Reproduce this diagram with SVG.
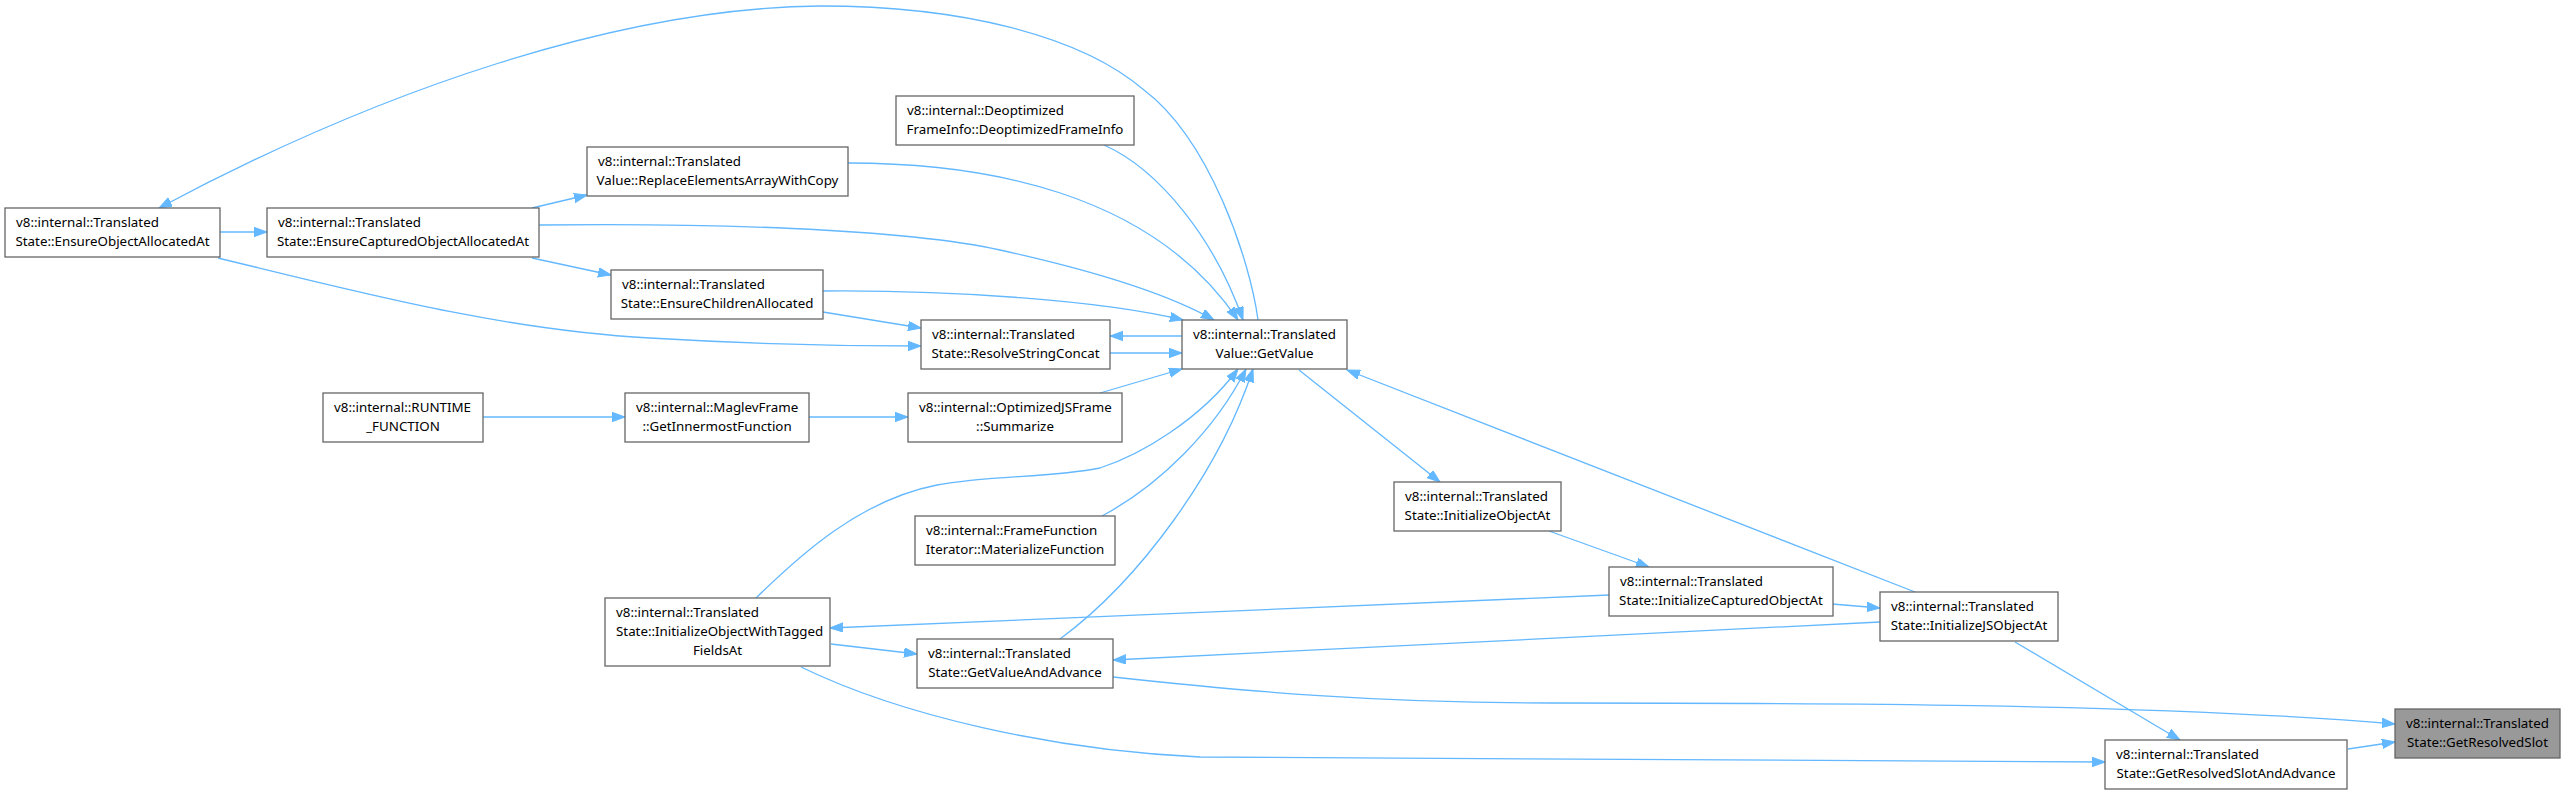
<svg xmlns="http://www.w3.org/2000/svg" width="2565" height="794" viewBox="0 0 2565 794">
<style>
.n rect{fill:#ffffff;stroke:#666666;stroke-width:1.3}
.n.h rect{fill:#999999}
.n text{font-family:"Noto Sans","Liberation Sans",sans-serif;font-size:13.33px;fill:#000}
.m{text-anchor:middle}
#edges path{fill:none;stroke:#63b8ff;stroke-width:1.3;marker-end:url(#ah)}
</style>
<defs>
<marker id="ah" markerWidth="14" markerHeight="10" refX="13" refY="4.7" orient="auto" markerUnits="userSpaceOnUse"><path d="M0,0 L13,4.7 L0,9.4 z" fill="#63b8ff" stroke="#63b8ff" stroke-width="1"/></marker>
</defs>
<rect width="2565" height="794" fill="#ffffff"/>
<g id="edges">
<path d="M220,232 L267,232"/>
<path d="M532,208 L587,195"/>
<path d="M532,258 L611,275"/>
<path d="M539,225 C700,223 900,228 1000,250 C1100,272 1170,295 1214,320"/>
<path d="M1104,145 C1160,170 1215,240 1243,320"/>
<path d="M848,163 C980,163 1150,190 1238,320"/>
<path d="M823,291 C950,290 1100,300 1183,320"/>
<path d="M823,312 L921,328"/>
<path d="M218,258 C350,290 500,330 650,338 C750,344 850,346 921,346"/>
<path d="M1182,336 L1110,336"/>
<path d="M1110,353 L1182,353"/>
<path d="M1100,393 L1182,369"/>
<path d="M483,417 L625,417"/>
<path d="M809,417 L908,417"/>
<path d="M756,598 C800,555 860,500 937,485 C990,475 1050,478 1100,468 C1140,455 1200,420 1238,369"/>
<path d="M1102,516 C1160,485 1215,430 1246,369"/>
<path d="M1060,639 C1140,580 1220,470 1253,369"/>
<path d="M1299,370 L1440,482"/>
<path d="M1549,531 L1649,567"/>
<path d="M1915,592 L1347,370"/>
<path d="M1832,604 L1880,608"/>
<path d="M1609,595 L830,628"/>
<path d="M1880,622 L1113,660"/>
<path d="M831,644 L917,654"/>
<path d="M1113,677 C1250,692 1380,703 1550,703 C1800,703 2150,703 2395,724"/>
<path d="M801,667 C900,715 1050,750 1200,757 C1300,760 1500,760 2105,762"/>
<path d="M2015,642 L2180,740"/>
<path d="M2348,749 L2395,742"/>
<path d="M1258,320 C1250,260 1210,140 1144,90 C1080,35 960,6 820,6 C620,8 380,90 159,208"/>
</g>
<g id="EnsureObjectAllocatedAt" class="n"><rect x="5" y="208" width="215" height="49"/><text x="16" y="227">v8::internal::Translated</text><text class="m" x="112.5" y="246">State::EnsureObjectAllocatedAt</text></g>
<g id="EnsureCapturedObjectAllocatedAt" class="n"><rect x="267" y="208" width="272" height="49"/><text x="278" y="227">v8::internal::Translated</text><text class="m" x="403" y="246">State::EnsureCapturedObjectAllocatedAt</text></g>
<g id="ReplaceElementsArrayWithCopy" class="n"><rect x="587" y="147" width="261" height="49"/><text x="598" y="166">v8::internal::Translated</text><text class="m" x="717.5" y="185">Value::ReplaceElementsArrayWithCopy</text></g>
<g id="DeoptimizedFrameInfo" class="n"><rect x="896" y="96" width="238" height="49"/><text x="907" y="115">v8::internal::Deoptimized</text><text class="m" x="1015" y="134">FrameInfo::DeoptimizedFrameInfo</text></g>
<g id="EnsureChildrenAllocated" class="n"><rect x="611" y="270" width="212" height="49"/><text x="622" y="289">v8::internal::Translated</text><text class="m" x="717" y="308">State::EnsureChildrenAllocated</text></g>
<g id="ResolveStringConcat" class="n"><rect x="921" y="320" width="189" height="49"/><text x="932" y="339">v8::internal::Translated</text><text class="m" x="1015.5" y="358">State::ResolveStringConcat</text></g>
<g id="GetValue" class="n"><rect x="1182" y="320" width="165" height="49"/><text x="1193" y="339">v8::internal::Translated</text><text class="m" x="1264.5" y="358">Value::GetValue</text></g>
<g id="RUNTIME_FUNCTION" class="n"><rect x="323" y="393" width="160" height="49"/><text x="334" y="412">v8::internal::RUNTIME</text><text class="m" x="403" y="431">_FUNCTION</text></g>
<g id="GetInnermostFunction" class="n"><rect x="625" y="393" width="184" height="49"/><text x="636" y="412">v8::internal::MaglevFrame</text><text class="m" x="717" y="431">::GetInnermostFunction</text></g>
<g id="Summarize" class="n"><rect x="908" y="393" width="214" height="49"/><text x="919" y="412">v8::internal::OptimizedJSFrame</text><text class="m" x="1015" y="431">::Summarize</text></g>
<g id="MaterializeFunction" class="n"><rect x="915" y="516" width="200" height="49"/><text x="926" y="535">v8::internal::FrameFunction</text><text class="m" x="1015" y="554">Iterator::MaterializeFunction</text></g>
<g id="InitializeObjectWithTaggedFieldsAt" class="n"><rect x="605" y="598" width="225" height="68"/><text x="616" y="617">v8::internal::Translated</text><text x="616" y="636">State::InitializeObjectWithTagged</text><text class="m" x="717.5" y="655">FieldsAt</text></g>
<g id="GetValueAndAdvance" class="n"><rect x="917" y="639" width="196" height="49"/><text x="928" y="658">v8::internal::Translated</text><text class="m" x="1015" y="677">State::GetValueAndAdvance</text></g>
<g id="InitializeObjectAt" class="n"><rect x="1394" y="482" width="167" height="49"/><text x="1405" y="501">v8::internal::Translated</text><text class="m" x="1477.5" y="520">State::InitializeObjectAt</text></g>
<g id="InitializeCapturedObjectAt" class="n"><rect x="1609" y="567" width="224" height="49"/><text x="1620" y="586">v8::internal::Translated</text><text class="m" x="1721" y="605">State::InitializeCapturedObjectAt</text></g>
<g id="InitializeJSObjectAt" class="n"><rect x="1880" y="592" width="178" height="49"/><text x="1891" y="611">v8::internal::Translated</text><text class="m" x="1969" y="630">State::InitializeJSObjectAt</text></g>
<g id="GetResolvedSlotAndAdvance" class="n"><rect x="2105" y="740" width="242" height="49"/><text x="2116" y="759">v8::internal::Translated</text><text class="m" x="2226" y="778">State::GetResolvedSlotAndAdvance</text></g>
<g id="GetResolvedSlot" class="n h"><rect x="2395" y="709" width="165" height="49"/><text x="2406" y="728">v8::internal::Translated</text><text class="m" x="2477.5" y="747">State::GetResolvedSlot</text></g>
</svg>
